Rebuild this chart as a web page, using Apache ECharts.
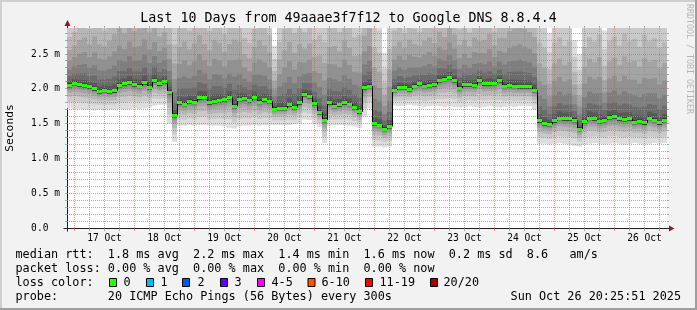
<!DOCTYPE html>
<html><head><meta charset="utf-8">
<script src="https://cdn.jsdelivr.net/npm/echarts@6/dist/echarts.min.js"></script>
<style>html,body{margin:0;padding:0;background:#f2f2f2}#c{width:697px;height:310px}</style>
</head><body><div id="c"></div>
<script>
// ---------------- data ----------------
const title = 'Last 10 Days from 49aaae3f7f12 to Google DNS 8.8.4.4';
const startHour = 21;   // hours after 16 Oct 00:00
const endHour = 261;
const stepHours = 2;    // one RRD column
const yMax = 2.874;     // ms

// median RTT per column (ms)
const median = [
 2.05,2.08,2.06,2.05,2.03,2.00,1.96,1.98,1.96,1.97,
 2.05,2.07,2.09,2.06,2.04,2.09,2.02,2.12,2.07,2.10,
 1.95,1.62,1.80,1.78,1.82,1.81,1.87,1.88,1.80,1.82,
 1.83,1.84,1.88,1.75,1.85,1.86,1.83,1.88,1.81,1.84,
 1.82,1.71,1.72,1.72,1.77,1.73,1.80,1.92,1.89,1.79,
 1.66,1.55,1.80,1.75,1.77,1.80,1.78,1.73,1.67,2.02,
 2.04,1.50,1.48,1.42,1.46,1.98,2.02,2.02,1.99,2.04,
 2.07,2.04,2.05,2.06,2.12,2.14,2.16,2.12,2.01,2.06,
 2.06,2.05,2.12,2.07,2.07,2.08,2.12,2.04,2.05,2.04,
 2.03,2.03,2.03,1.98,1.54,1.50,1.49,1.54,1.58,1.57,
 1.57,1.55,1.42,1.53,1.58,1.57,1.53,1.55,1.59,1.60,
 1.57,1.56,1.57,1.52,1.53,1.51,1.58,1.55,1.51,1.55
];
// fastest ping per column (ms)
const minPing = [
 1.72,1.71,1.71,1.70,1.70,1.69,1.70,1.69,1.70,1.70,
 1.71,1.70,1.71,1.72,1.71,1.72,1.73,1.76,1.77,1.77,
 1.50,1.24,1.47,1.47,1.48,1.47,1.48,1.48,1.47,1.47,
 1.47,1.46,1.44,1.43,1.46,1.47,1.47,1.48,1.47,1.48,
 1.48,1.48,1.48,1.48,1.48,1.49,1.50,1.56,1.55,1.49,
 1.45,1.22,1.47,1.48,1.48,1.48,1.47,1.46,1.44,1.60,
 1.72,1.17,1.17,1.16,1.17,1.76,1.75,1.76,1.77,1.76,
 1.75,1.74,1.75,1.76,1.75,1.74,1.75,1.74,1.73,1.74,
 1.75,1.74,1.73,1.74,1.75,1.74,1.73,1.74,1.75,1.74,
 1.75,1.76,1.75,1.70,1.21,1.21,1.20,1.21,1.22,1.21,
 1.20,1.18,1.17,1.20,1.21,1.22,1.21,1.20,1.21,1.22,
 1.21,1.20,1.21,1.22,1.21,1.20,1.21,1.22,1.21,1.22
];
// slowest ping per column (ms)
const maxPing = [
 3.2,3.3,3.5,3.6,3.4,3.7,3.5,3.4,3.6,3.8,
 3.9,3.7,4.0,3.8,3.9,4.1,3.8,3.9,3.6,3.7,
 3.5,3.3,3.6,3.8,3.5,3.7,3.9,3.6,3.5,3.8,
 3.7,3.4,3.6,3.9,3.7,3.3,3.2,3.5,3.8,3.6,
 3.4,2.62,3.3,3.6,3.8,3.5,3.7,3.4,3.6,3.3,
 3.5,3.4,3.6,3.7,3.5,3.8,3.6,3.4,3.5,3.7,
 3.9,3.3,3.2,2.52,3.3,3.4,3.5,3.3,3.6,3.4,
 3.3,3.5,3.6,3.4,3.7,3.5,3.8,3.6,3.4,3.5,
 3.3,3.6,3.4,3.5,3.7,3.3,3.5,3.6,3.8,3.9,
 4.0,3.9,3.8,3.7,3.4,3.3,2.80,3.4,3.5,3.3,
 3.4,2.70,2.50,3.3,3.5,3.4,3.6,2.84,3.4,3.5,
 3.3,3.6,3.4,3.5,3.3,3.6,3.4,3.5,3.3,3.4
];
const dayLabels = ['17 Oct','18 Oct','19 Oct','20 Oct','21 Oct','22 Oct','23 Oct','24 Oct','25 Oct','26 Oct'];
const dayLabelHours = [36,60,84,108,132,156,180,204,228,252];
const midnightHours = [24,48,72,96,120,144,168,192,216,240];
const yMajorTicks = [0.5,1.0,1.5,2.0,2.5];

const statRtt  = 'median rtt:  1.8 ms avg  2.2 ms max  1.4 ms min  1.6 ms now  0.2 ms sd  8.6   am/s';
const statLoss = 'packet loss: 0.00 % avg  0.00 % max  0.00 % min  0.00 % now';
const lossLabel = 'loss color:';
const lossNames = ['0','1','2','3','4-5','6-10','11-19','20/20'];
const lossColors = ['#26ff00','#00b8ff','#0059ff','#5e00ff','#ff00ff','#ff5500','#ff0000','#a00000'];
const probeText = 'probe:       20 ICMP Echo Pings (56 Bytes) every 300s';
const dateText = 'Sun Oct 26 20:25:51 2025';
const watermark = 'RRDTOOL / TOBI OETIKER';

// ---------------- styles ----------------
const MONO = '"DejaVu Sans Mono", monospace';
const GRAYS = [221,202,183,164,145,126,107,88,69,50];
const MINOR_COL = 'rgba(143,143,143,0.75)';
const MAJOR_COL = 'rgba(222,79,79,0.6)';
const GREEN = '#26ff00';

const cols = median.map((m, i) => [startHour + i * stepHours, m, minPing[i], maxPing[i], i > 0 ? median[i - 1] : m]);

const vLines = [];
for (let h = 24; h < endHour; h += 6) vLines.push([h, midnightHours.indexOf(h) >= 0 ? 1 : 0]);
const hLines = [];
for (let k = 1; k <= 28; k++) { const v = +(k / 10).toFixed(1); hLines.push([startHour, v, yMajorTicks.indexOf(v) >= 0 ? 1 : 0]); }

function crisp(v) { return Math.floor(v) + 0.5; }

function renderSmoke(params, api) {
  const t0 = api.value(0), med = api.value(1), lo = api.value(2), hi = api.value(3);
  const x0 = api.coord([t0, 0])[0], x1 = api.coord([t0 + stepHours, 0])[0];
  const children = [];
  for (let p = 1; p <= 10; p++) {
    const k = 10 - p;
    const up = med + (hi - med) * Math.pow(k / 9, 2);
    const dn = med - (med - lo) * Math.pow(k / 9, 2.8);
    let yTop = api.coord([t0, Math.min(up, yMax)])[1];
    let yBot = api.coord([t0, Math.max(dn, 0)])[1];
    if (p === 10) { yTop -= 2; yBot += 2; }
    const g = GRAYS[p - 1];
    children.push({ type: 'rect', shape: { x: x0, y: yTop, width: x1 - x0, height: Math.max(0, yBot - yTop) },
      style: { fill: 'rgb(' + g + ',' + g + ',' + g + ')' } });
  }
  return { type: 'group', children };
}

function renderMedian(params, api) {
  const t0 = api.value(0), med = api.value(1), prev = api.value(4);
  const p0 = api.coord([t0, med]), p1 = api.coord([t0 + stepHours, med]), pp = api.coord([t0, prev]);
  const children = [];
  if (params.dataIndex > 0 && Math.abs(pp[1] - p0[1]) > 1) {
    const xs = crisp(p0[0]);
    children.push({ type: 'line', shape: { x1: xs, y1: pp[1], x2: xs, y2: p0[1] }, style: { stroke: '#000', lineWidth: 1 } });
  }
  children.push({ type: 'rect', shape: { x: p0[0], y: Math.round(p0[1] - 1.5), width: p1[0] - p0[0], height: 3 }, style: { fill: GREEN } });
  return { type: 'group', children };
}

function renderVGrid(params, api) {
  const h = api.value(0), major = api.value(1);
  const b = api.coord([h, 0]), t = api.coord([h, yMax]);
  const xs = crisp(b[0]);
  const col = major ? MAJOR_COL : MINOR_COL;
  return { type: 'group', children: [
    { type: 'line', shape: { x1: xs, y1: b[1], x2: xs, y2: t[1] }, style: { stroke: col, lineWidth: 1, lineDash: [1, 1] } },
    { type: 'line', shape: { x1: xs, y1: b[1], x2: xs, y2: b[1] + 3 }, style: { stroke: col, lineWidth: 1 } },
    { type: 'line', shape: { x1: xs, y1: t[1] - 2, x2: xs, y2: t[1] }, style: { stroke: col, lineWidth: 1 } }
  ] };
}

function renderHGrid(params, api) {
  const v = api.value(1), major = api.value(2);
  const l = api.coord([startHour, v]), r = api.coord([endHour, v]);
  const ys = crisp(l[1]);
  const col = major ? MAJOR_COL : MINOR_COL;
  return { type: 'group', children: [
    { type: 'line', shape: { x1: l[0], y1: ys, x2: r[0], y2: ys }, style: { stroke: col, lineWidth: 1, lineDash: [1, 1] } },
    { type: 'line', shape: { x1: l[0] - 2, y1: ys, x2: l[0], y2: ys }, style: { stroke: col, lineWidth: 1 } },
    { type: 'line', shape: { x1: r[0], y1: ys, x2: r[0] + 2, y2: ys }, style: { stroke: col, lineWidth: 1 } }
  ] };
}

const chart = echarts.init(document.getElementById('c'), null, { renderer: 'canvas', width: 697, height: 310 });

function txt(x, y, text, size, extra) {
  return Object.assign({ type: 'text', x: x, y: y, silent: true,
    style: Object.assign({ text: text, fill: '#000', font: size + 'px ' + MONO,
      textAlign: 'left', textVerticalAlign: 'middle', align: 'left', verticalAlign: 'middle' }, (extra && extra.style) || {}) },
    extra && extra.el || {});
}

const legendBoxX = [109, 146, 182, 220, 257, 307.5, 365, 430];
const legendTextX = [123.5, 160.5, 197.5, 234.5, 271.5, 321.5, 379.5, 443.5];

const graphics = [
  { type: 'rect', shape: { x: 0, y: 0, width: 697, height: 2 }, style: { fill: '#cfcfcf' }, silent: true },
  { type: 'rect', shape: { x: 0, y: 0, width: 2, height: 310 }, style: { fill: '#cfcfcf' }, silent: true },
  { type: 'rect', shape: { x: 695, y: 0, width: 2, height: 310 }, style: { fill: '#9e9e9e' }, silent: true },
  { type: 'rect', shape: { x: 0, y: 308, width: 697, height: 2 }, style: { fill: '#9e9e9e' }, silent: true },
  txt(348.5, 19, title, 13.3, { style: { textAlign: 'center', align: 'center' } }),
  txt(689, 4, watermark, 8.3, { style: { fill: '#b4b4b4' }, el: { rotation: -Math.PI / 2 } }),
  txt(10, 128, 'Seconds', 11.3, { style: { textAlign: 'center', align: 'center' }, el: { rotation: Math.PI / 2 } }),
  txt(15.5, 255, statRtt, 11.8),
  txt(15.5, 268.5, statLoss, 11.8),
  txt(15.5, 282.5, lossLabel, 11.8),
  txt(15.5, 296.5, probeText, 11.8),
  txt(681, 296.5, dateText, 11.8, { style: { textAlign: 'right', align: 'right' } })
];
lossNames.forEach((n, i) => {
  graphics.push({ type: 'rect', silent: true, shape: { x: legendBoxX[i] + 0.5, y: 278.5, width: 7, height: 8 },
    style: { fill: lossColors[i], stroke: '#000', lineWidth: 1 } });
  graphics.push(txt(legendTextX[i], 282.5, n, 11.8));
});

chart.setOption({
  animation: false,
  backgroundColor: '#f2f2f2',
  grid: { left: 67, right: 30, top: 28, bottom: 82, show: true, backgroundColor: '#ffffff', borderWidth: 0 },
  xAxis: {
    type: 'value', min: startHour, max: endHour, interval: 3,
    axisLine: { show: false }, axisTick: { show: false }, splitLine: { show: false },
    axisLabel: { margin: 5, color: '#000', fontFamily: MONO, fontSize: 9.6,
      formatter: v => { const i = dayLabelHours.indexOf(Math.round(v)); return i >= 0 ? dayLabels[i] : ''; } }
  },
  yAxis: {
    type: 'value', min: 0, max: yMax, interval: 0.5,
    axisLine: { show: false }, axisTick: { show: false }, splitLine: { show: false },
    axisLabel: { margin: 7, color: '#000', fontFamily: MONO, fontSize: 9.6, showMaxLabel: false,
      formatter: v => v === 0 ? '0.0  ' : v.toFixed(1) + ' m' }
  },
  series: [
    { type: 'custom', name: 'smoke', renderItem: renderSmoke, data: cols, encode: { x: 0, y: 1 }, z: 1, silent: true },
    { type: 'custom', name: 'vgrid', renderItem: renderVGrid, data: vLines, encode: { x: 0, y: 1 }, z: 2, silent: true },
    { type: 'custom', name: 'hgrid', renderItem: renderHGrid, data: hLines, encode: { x: 0, y: 1 }, z: 2, silent: true },
    { type: 'custom', name: 'median', renderItem: renderMedian, data: cols, encode: { x: 0, y: 1 }, z: 3, silent: true }
  ],
  graphic: graphics
});

// axes with arrows, placed from the chart's own coordinate system
const o = chart.convertToPixel({ gridIndex: 0 }, [startHour, 0]);
const e = chart.convertToPixel({ gridIndex: 0 }, [endHour, yMax]);
const ox = crisp(o[0]), oy = crisp(o[1]);
graphics.push(
  { type: 'line', silent: true, shape: { x1: ox - 4, y1: oy, x2: e[0] + 3, y2: oy }, style: { stroke: '#1f1f1f', lineWidth: 1 } },
  { type: 'line', silent: true, shape: { x1: ox, y1: oy + 3, x2: ox, y2: e[1] - 3 }, style: { stroke: '#1f1f1f', lineWidth: 1 } },
  { type: 'polygon', silent: true, shape: { points: [[e[0] + 2, oy - 3], [e[0] + 2, oy + 3], [e[0] + 7.5, oy]] }, style: { fill: '#801f1f' } },
  { type: 'polygon', silent: true, shape: { points: [[ox - 3, e[1] - 2], [ox + 3, e[1] - 2], [ox, e[1] - 8]] }, style: { fill: '#801f1f' } }
);
chart.setOption({ graphic: graphics });
</script></body></html>
